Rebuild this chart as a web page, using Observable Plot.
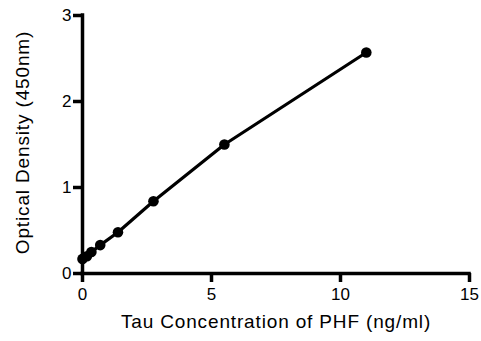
<!DOCTYPE html>
<html>
<head>
<meta charset="utf-8">
<script src="https://cdn.jsdelivr.net/npm/d3@7"></script>
<script src="https://cdn.jsdelivr.net/npm/@observablehq/plot@0.6"></script>
<style>
  html, body { margin: 0; padding: 0; background: #fff; }
  svg { font-family: "Liberation Sans", Arial, sans-serif; }
</style>
</head>
<body>
<div id="chart"></div>
<script>
const concentration = [0, 0.172, 0.344, 0.6875, 1.375, 2.75, 5.5, 11];
const opticalDensity = [0.17, 0.20, 0.25, 0.33, 0.48, 0.84, 1.50, 2.57];
const xTicks = [0, 5, 10, 15];
const yTicks = [0, 1, 2, 3];
const xLabel = "Tau Concentration of PHF (ng/ml)";
const yLabel = "Optical Density (450nm)";

const data = concentration.map((c, i) => ({c, od: opticalDensity[i]}));

const chart = Plot.plot({
  width: 481,
  height: 341,
  marginLeft: 82,
  marginRight: 12,
  marginTop: 15,
  marginBottom: 68,
  style: {fontFamily: "'Liberation Sans', Arial, sans-serif", color: "#000", background: "#fff"},
  x: {domain: [0, 15]},
  y: {domain: [0, 3]},
  marks: [
    Plot.axisX({ticks: xTicks, tickFormat: d3.format("d"), tickSize: 9, tickPadding: 5, strokeWidth: 3.5, fontSize: 17, label: null, fill: "#000"}),
    Plot.axisY({ticks: yTicks, tickFormat: d3.format("d"), tickSize: 9, tickPadding: 2, strokeWidth: 3.5, fontSize: 17, label: null, fill: "#000"}),
    Plot.ruleY([0], {strokeWidth: 3.5, stroke: "#000", strokeLinecap: "square"}),
    Plot.ruleX([0], {strokeWidth: 3.5, stroke: "#000", strokeLinecap: "square"}),
    Plot.line(data, {x: "c", y: "od", stroke: "#000", strokeWidth: 3.2}),
    Plot.dot(data, {x: "c", y: "od", r: 5.3, fill: "#000", stroke: "none"}),
    Plot.text([xLabel], {frameAnchor: "bottom", textAnchor: "middle", dy: 54, fontSize: 19, fill: "#000"}),
    Plot.text([yLabel], {frameAnchor: "left", textAnchor: "middle", dx: -60, dy: -2, rotate: -90, fontSize: 19, fill: "#000"})
  ]
});

d3.select(chart).selectAll("text").filter(function() {
  const t = this.textContent;
  return t === xLabel || t === yLabel;
}).style("letter-spacing", "0.85px");

document.getElementById("chart").appendChild(chart);
</script>
</body>
</html>
